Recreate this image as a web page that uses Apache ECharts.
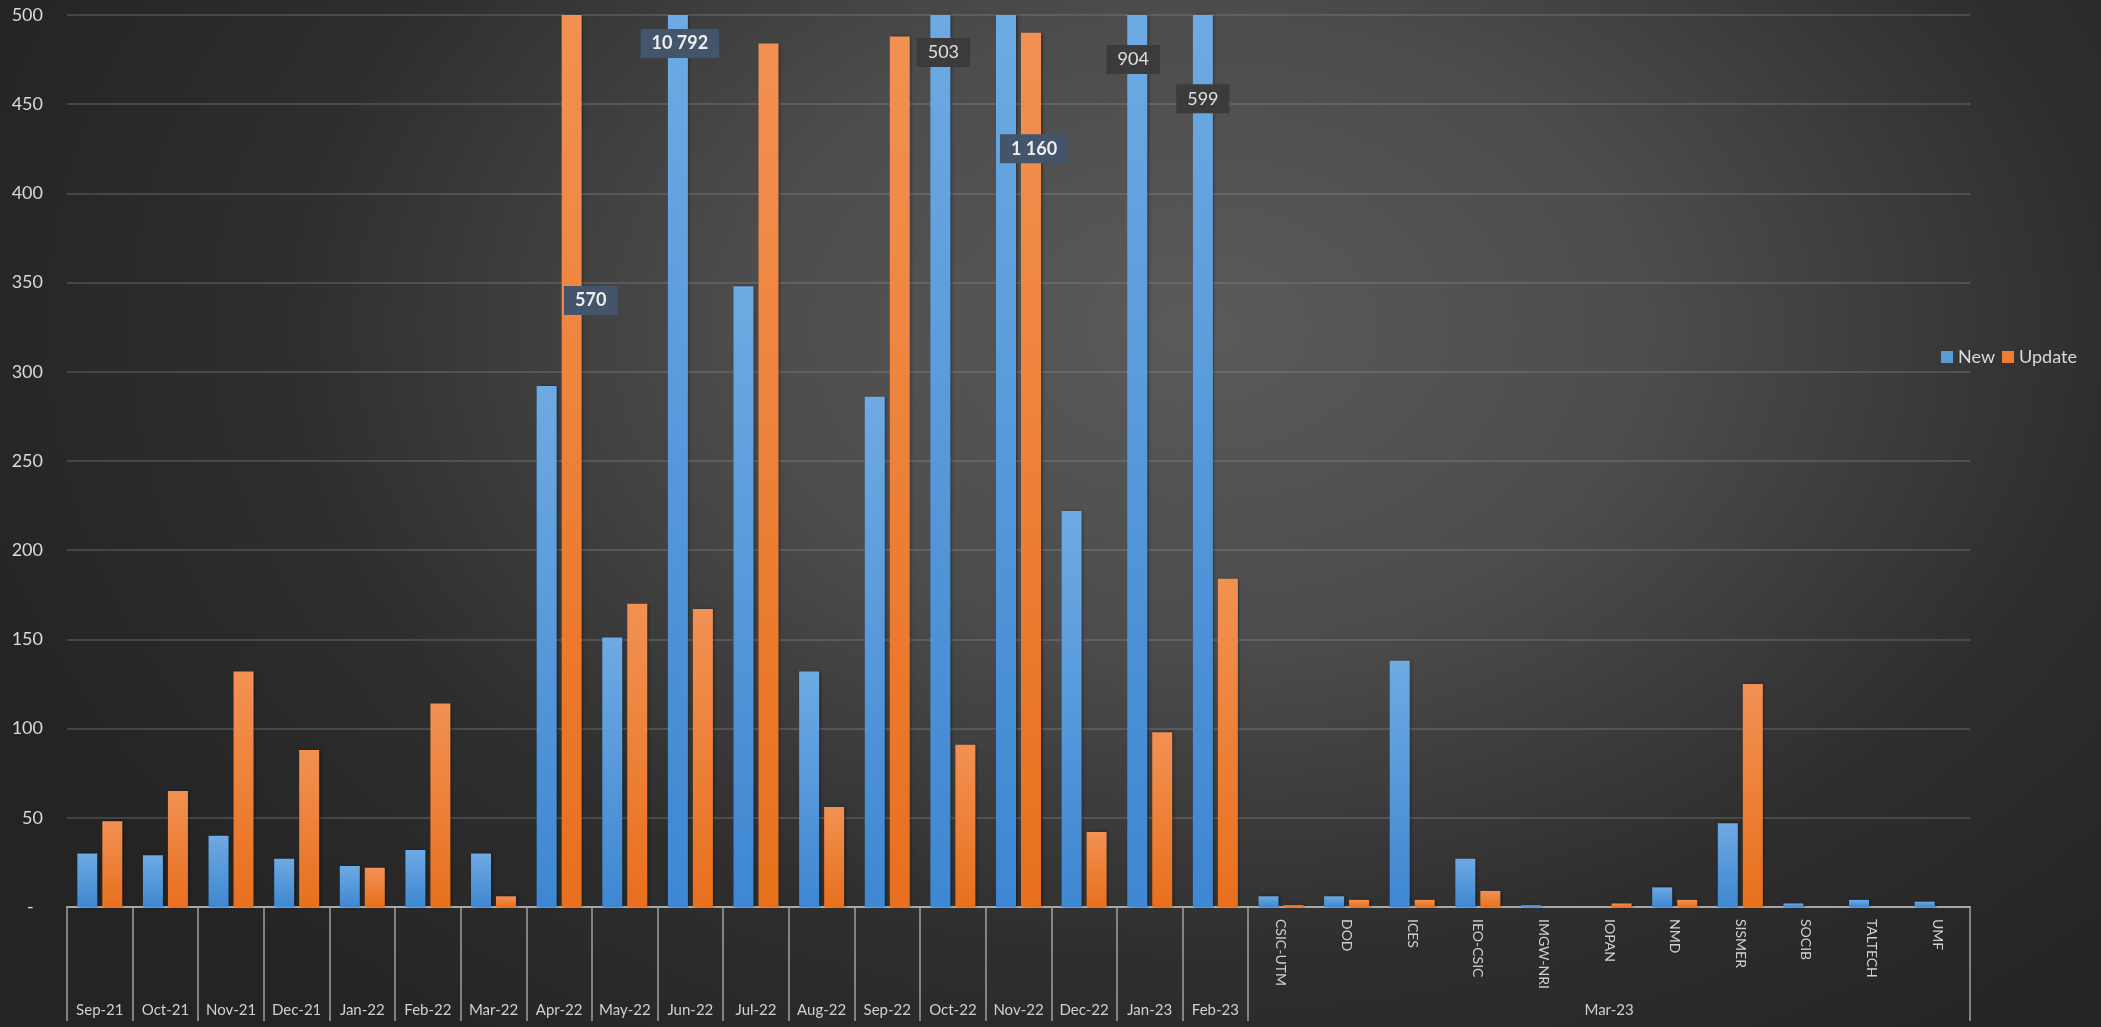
<!DOCTYPE html>
<html>
<head>
<meta charset="utf-8">
<title>New / Update</title>
<script src="https://cdn.jsdelivr.net/npm/echarts@6/dist/echarts.min.js"></script>
<style>
  html, body { margin: 0; padding: 0; overflow: hidden; background: #262626; }
  #chart {
    width: 2101px;
    height: 1027px;
    background: radial-gradient(ellipse 1300px 900px at 57% 32%, #5a5a5a 0%, #4c4c4c 35%, #2e2e2e 70%, #242424 100%);
  }
</style>
</head>
<body>
<div id="chart"></div>
<script>
// months shown as single categories
const months = ['Sep-21', 'Oct-21', 'Nov-21', 'Dec-21', 'Jan-22', 'Feb-22', 'Mar-22', 'Apr-22', 'May-22',
  'Jun-22', 'Jul-22', 'Aug-22', 'Sep-22', 'Oct-22', 'Nov-22', 'Dec-22', 'Jan-23', 'Feb-23'];
// last month is split by provider
const lastMonth = 'Mar-23';
const providers = ['CSIC-UTM', 'DOD', 'ICES', 'IEO-CSIC', 'IMGW-NRI', 'IOPAN', 'NMD', 'SISMER', 'SOCIB', 'TALTECH', 'UMF'];

const newValues = [30, 29, 40, 27, 23, 32, 30, 292, 151, 10792, 348, 132, 286, 503, 1160, 222, 904, 599,
  6, 6, 138, 27, 1, 0, 11, 47, 2, 4, 3];
const updateValues = [48, 65, 132, 88, 22, 114, 6, 570, 170, 167, 484, 56, 488, 91, 490, 42, 98, 184,
  1, 4, 4, 9, 0, 2, 4, 125, 0, 0, 0];

const yMin = 0;
const yMax = 500;
const yStep = 50;

const categories = months.concat(providers);
const groupLabelIndex = months.length + Math.floor(providers.length / 2);

const FONT = 'Lato, "Open Sans", sans-serif';

function fmtThousands(v) {
  return String(v).replace(/\B(?=(\d{3})+(?!\d))/g, ' ');
}

// callouts for bars that run past the axis max (placed by hand in the original)
const calloutStyle = {
  bold: { backgroundColor: '#44546a', color: '#eeeeee', fontWeight: 'bold' },
  plain: { backgroundColor: '#3b3b3b', color: '#e0e0e0', fontWeight: 'normal' }
};

// markPoint sits on the bar itself, dx moves the box sideways from there
function callout(values, cat, y, dx, kind) {
  const idx = categories.indexOf(cat);
  return {
    coord: [cat, y],
    value: values[idx],
    symbol: 'rect',
    symbolSize: 1,
    itemStyle: { color: 'rgba(0,0,0,0)' },
    label: Object.assign({
      show: true,
      position: 'inside',
      offset: [dx, 0],
      fontFamily: FONT,
      fontSize: 18,
      padding: [6, 11, 5, 11],
      formatter: function (p) { return fmtThousands(p.value); }
    }, calloutStyle[kind])
  };
}

function barGradient(top, bottom) {
  return {
    type: 'linear', x: 0, y: 0, x2: 0, y2: 1,
    colorStops: [{ offset: 0, color: top }, { offset: 1, color: bottom }]
  };
}

const chart = echarts.init(document.getElementById('chart'), null, { renderer: 'canvas' });

const option = {
  animation: false,
  backgroundColor: 'transparent',
  textStyle: { fontFamily: FONT },
  grid: {
    left: 67,
    right: 131,
    top: 15,
    bottom: 120,
    containLabel: false
  },
  legend: {
    left: 1936,
    top: 343,
    orient: 'horizontal',
    icon: 'rect',
    itemWidth: 12,
    itemHeight: 12,
    itemGap: 7,
    textStyle: { color: '#d9d9d9', fontSize: 18, fontFamily: FONT },
    data: [
      { name: 'New', itemStyle: { color: '#5b9bd5' } },
      { name: 'Update', itemStyle: { color: '#ed7d31' } }
    ]
  },
  xAxis: [
    {
      type: 'category',
      data: categories,
      position: 'bottom',
      axisLine: { show: true, lineStyle: { color: '#a8a8a8', width: 2 } },
      axisTick: {
        show: true,
        interval: function (i) { return i <= months.length; },
        length: 114,
        lineStyle: { color: '#a0a0a0', width: 1.5 }
      },
      axisLabel: {
        interval: 0,
        rotate: -90,
        margin: 12,
        color: '#d0d0d0',
        fontSize: 14,
        fontFamily: FONT,
        formatter: function (v, i) { return i >= months.length ? v : ''; }
      },
      splitLine: { show: false }
    },
    {
      type: 'category',
      data: categories,
      position: 'bottom',
      axisLine: { show: false },
      axisTick: { show: false },
      axisLabel: {
        interval: 0,
        margin: 96,
        color: '#d0d0d0',
        fontSize: 15,
        fontFamily: FONT,
        formatter: function (v, i) {
          if (i < months.length) return v;
          return i === groupLabelIndex ? lastMonth : '';
        }
      },
      splitLine: { show: false }
    }
  ],
  yAxis: {
    type: 'value',
    min: yMin,
    max: yMax,
    interval: yStep,
    axisLine: { show: false },
    axisTick: { show: false },
    splitLine: { lineStyle: { color: 'rgba(150,150,150,0.38)', width: 1.5 } },
    axisLabel: {
      margin: 24,
      color: '#d9d9d9',
      fontSize: 18,
      fontFamily: FONT,
      formatter: function (v) { return v === 0 ? '-  ' : String(v); }
    }
  },
  series: [
    {
      name: 'New',
      type: 'bar',
      xAxisIndex: 0,
      data: newValues,
      barWidth: 20,
      barGap: '25%',
      clip: true,
      itemStyle: {
        color: barGradient('#6eaae3', '#3e87d2'),
        shadowColor: 'rgba(0,0,0,0.4)',
        shadowBlur: 3,
        shadowOffsetX: 1.5
      },
      markPoint: {
        silent: true,
        data: [
          callout(newValues, 'Jun-22', 484, 2, 'bold'),
          callout(newValues, 'Oct-22', 479, 3, 'plain'),
          callout(newValues, 'Nov-22', 425, 28, 'bold'),
          callout(newValues, 'Jan-23', 475, -4, 'plain'),
          callout(newValues, 'Feb-23', 453, 0, 'plain')
        ]
      }
    },
    {
      name: 'Update',
      type: 'bar',
      xAxisIndex: 0,
      data: updateValues,
      barWidth: 20,
      barGap: '25%',
      clip: true,
      itemStyle: {
        color: barGradient('#f29153', '#e8701d'),
        shadowColor: 'rgba(0,0,0,0.4)',
        shadowBlur: 3,
        shadowOffsetX: 1.5
      },
      markPoint: {
        silent: true,
        data: [
          callout(updateValues, 'Apr-22', 340, 19, 'bold')
        ]
      }
    }
  ]
};

chart.setOption(option);
</script>
</body>
</html>
